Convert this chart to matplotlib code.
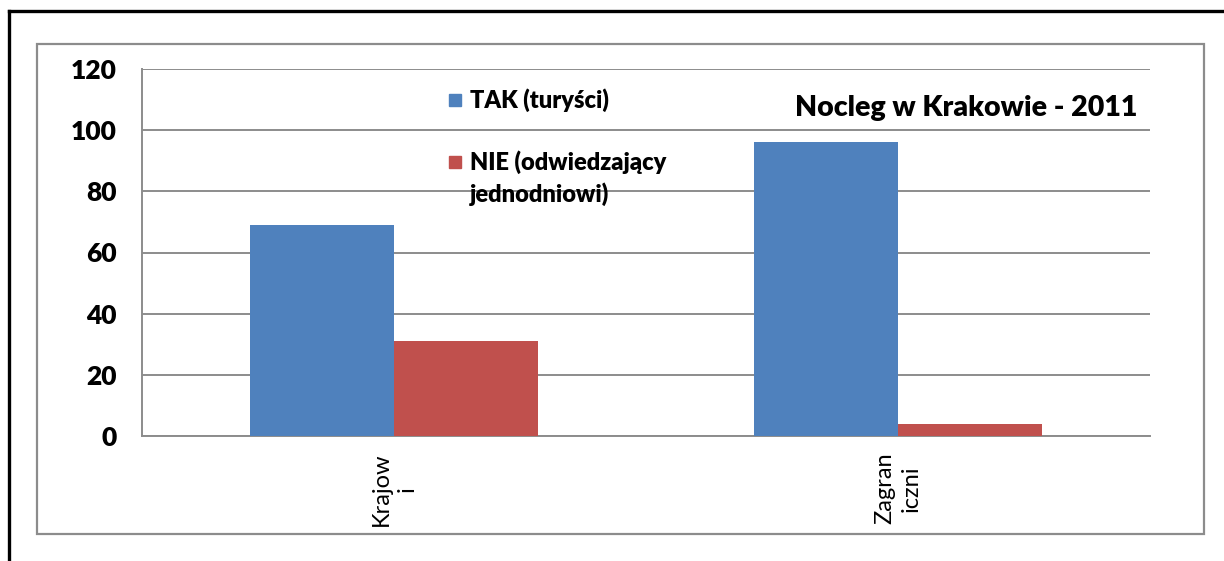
import matplotlib.pyplot as plt
from matplotlib.patches import Rectangle
import numpy as np

plt.rcParams['font.family'] = ['Lato', 'DejaVu Sans']

categories = ['Krajow\ni', 'Zagran\niczni']
tak = [69, 96]
nie = [31, 4]
series_labels = ['TAK (turyści)', 'NIE (odwiedzający\njednodniowi)']
colors = ['#4F81BD', '#C0504D']
title = 'Nocleg w Krakowie - 2011'

W, H = 1224, 561
fig = plt.figure(figsize=(W / 100, H / 100), dpi=100)

def fx(px):
    return px / W

def fy(py):
    return 1 - py / H

# outer black frame (only top and left edges visible)
fig.add_artist(plt.Line2D([fx(9), 1.0], [fy(11), fy(11)], color='black', lw=2.4))
fig.add_artist(plt.Line2D([fx(9), fx(9)], [fy(11), 0.0], color='black', lw=2.4))
# inner gray chart area border
fig.add_artist(Rectangle((fx(37), fy(534)), fx(1204) - fx(37), fy(44) - fy(534),
                         fill=False, edgecolor='#8c8c8c', lw=1.6))

ax = fig.add_axes([fx(142), fy(436), fx(1150) - fx(142), fy(69) - fy(436)])
x = np.arange(len(categories))
w = 0.2857
ax.bar(x - w / 2, tak, w, color=colors[0], zorder=3)
ax.bar(x + w / 2, nie, w, color=colors[1], zorder=3)
ax.set_xlim(-0.5, 1.5)
ax.set_ylim(0, 120)
ax.set_yticks(range(0, 121, 20))
ax.yaxis.grid(True, color='#8c8c8c', lw=1.4, zorder=0)
ax.set_axisbelow(True)
for s in ['top', 'right']:
    ax.spines[s].set_visible(False)
for s in ['left', 'bottom']:
    ax.spines[s].set_color('#8c8c8c')
    ax.spines[s].set_linewidth(1.4)
ax.tick_params(axis='y', length=0, pad=18, labelsize=19)
for t in ax.get_yticklabels():
    t.set_fontweight('heavy')
ax.set_xticks(x)
ax.set_xticklabels(categories, rotation=90, fontsize=17, va='top', ha='center',
                   multialignment='center', linespacing=1.3)
ax.tick_params(axis='x', length=0, pad=12)

# legend
leg_y = [100, 162]
for c, lab, yy in zip(colors, series_labels, leg_y):
    fig.add_artist(Rectangle((fx(449), fy(yy + 6)), fx(12), 12 / H, color=c))
    fig.text(fx(470), fy(yy - 12), lab, fontsize=17, fontweight='heavy',
             va='top', ha='left', linespacing=1.45)

fig.text(fx(1137), fy(108), title, fontsize=20.5, fontweight='heavy',
         ha='right', va='center')

fig.savefig('out.png', dpi=100)
